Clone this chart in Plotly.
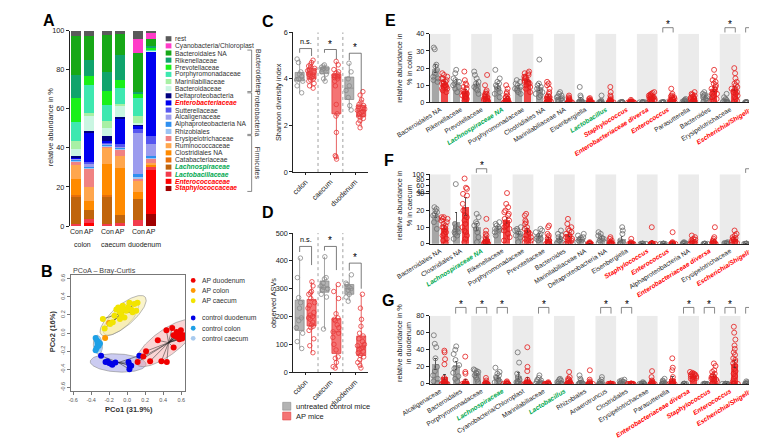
import numpy as np
import plotly.graph_objects as go

W, H = 757, 439
FONT = "Liberation Sans, Arial, Helvetica, sans-serif"
INK = "#222222"
RED_TXT = "#ff0000"
GREEN_TXT = "#00a84f"

# ============================ DATA ============================
# ---- Panel A: mean relative abundance (%) per bar; taxa listed top -> bottom of the stack
a_taxa = ["rest", "Cyanobacteria/Chloroplast", "Bacteroidales NA", "Rikenellaceae",
          "Prevotellaceae", "Porphyromonadaceae", "Marinilabiliaceae", "Bacteroidaceae",
          "Deltaproteobacteria", "Enterobacteriaceae", "Sutterellaceae", "Alcaligenaceae",
          "Alphaproteobacteria NA", "Rhizobiales", "Erysipelotrichaceae", "Ruminococcaceae",
          "Clostridiales NA", "Catabacteriaceae", "Lachnospiraceae", "Lactobacillaceae",
          "Enterococcaceae", "Staphylococcaceae"]
a_taxa_mark = ["k", "k", "k", "k", "k", "k", "k", "k", "k", "r", "k", "k", "k", "k",
               "k", "k", "k", "k", "g", "g", "r", "r"]
a_bar_labels = ["Con", "AP", "Con", "AP", "Con", "AP"]
a_sites = ["colon", "caecum", "duodenum"]
a_con_colon = [2.5, 0, 20.2, 11.8, 12.2, 9.8, 3.9, 3.6, 0.5, 0.5, 0.5, 0.3, 0.4, 0.4, 2.2, 7.2, 8.0, 0.5, 14.5, 0.6, 0.4, 0]
a_ap_colon = [2.5, 0, 12.4, 8.3, 4.5, 14.4, 1.4, 7.9, 0.3, 15.4, 1.4, 0.6, 0.9, 0.4, 9.5, 7.5, 4.5, 0, 4.3, 2.2, 1.6, 0]
a_con_caecum = [2.4, 0, 18.7, 9.7, 7.5, 8.0, 3.3, 4.1, 2.9, 0.4, 0.8, 0.4, 0.6, 0.2, 0.5, 8.75, 15.85, 0.5, 14.4, 0.6, 0.4, 0]
a_ap_caecum = [1.9, 0, 10.5, 13.0, 4.0, 8.3, 0.5, 5.9, 0.5, 13.6, 0.8, 0.6, 0.6, 0.2, 3.7, 6.3, 24.2, 0, 4.1, 0.8, 0.5, 0]
a_con_duodenum = [4.4, 6.9, 20.0, 1.1, 2.0, 9.4, 3.6, 0.5, 0.3, 2.2, 2.0, 20.8, 1.7, 0.8, 0.6, 6.1, 3.6, 0, 10.9, 3.1, 0, 0]
a_ap_duodenum = [0.8, 3.6, 3.5, 1.1, 0.5, 0.5, 0.2, 0.2, 0, 43.7, 4.1, 5.9, 0.8, 0.5, 2.3, 0.7, 0.7, 0.4, 0, 2.0, 22.6, 5.9]
a_phyla = ["Bacteroidetes", "Proteobacteria", "Firmicutes"]
a_phyla_first = [2, 8, 14]
a_phyla_last = [7, 13, 21]

# ---- Panel B: PCoA coordinates (Bray-Curtis)
b_names = ["control caecum", "control colon", "control duodenum", "AP colon", "AP caecum", "AP duodenum"]
b_ctrl_caecum_x = [-0.33, -0.31]
b_ctrl_caecum_y = [-0.13, -0.17]
b_ctrl_colon_x = [-0.35, -0.335, -0.327, -0.316, -0.338, -0.35, -0.302, -0.32]
b_ctrl_colon_y = [-0.054, -0.083, -0.115, -0.14, -0.162, -0.19, -0.115, -0.10]
b_ctrl_duo_x = [-0.29, -0.24, -0.22, -0.20, -0.18, -0.165, -0.13, 0.015, 0.025, 0.045, 0.025, 0.135]
b_ctrl_duo_y = [-0.25, -0.32, -0.31, -0.33, -0.34, -0.35, -0.325, -0.32, -0.35, -0.36, -0.40, -0.25]
b_ap_colon_x = [-0.245, -0.20]
b_ap_colon_y = [-0.055, 0.11]
b_ap_caecum_x = [-0.27, -0.25, -0.19, -0.16, -0.12, -0.10, -0.08, -0.065, -0.05, -0.03, -0.01,
                 0.01, 0.025, 0.045, 0.06, 0.08, 0.10, 0.115, -0.08, -0.14, -0.05]
b_ap_caecum_y = [0.155, 0.05, 0.10, 0.12, 0.26, 0.28, 0.23, 0.21, 0.26, 0.17, 0.245,
                 0.28, 0.335, 0.26, 0.23, 0.32, 0.245, 0.335, 0.155, 0.19, 0.30]
b_ap_duo_x = [0.116, 0.18, 0.21, 0.255, 0.34, 0.38, 0.44, 0.436, 0.50, 0.516, 0.516, 0.55,
              0.57, 0.59, 0.61, 0.62, 0.625, 0.596, 0.58, 0.55]
b_ap_duo_y = [-0.32, -0.26, -0.20, -0.31, -0.08, -0.31, -0.32, 0.03, 0.055, -0.025, -0.16, 0.01,
              -0.02, -0.007, -0.06, -0.04, -0.025, 0.03, -0.07, -0.04]
b_legend = ["AP duodenum", "AP colon", "AP caecum", "control duodenum", "control colon", "control caecum"]

# ---- Panels C and D: alpha diversity per mouse (site order: colon, caecum, duodenum)
cd_sites = ["colon", "caecum", "duodenum"]
c_con = [[4.85, 4.7, 4.3, 4.2, 4.1, 4.0, 3.95, 3.9, 3.7, 3.4],
         [4.6, 4.55, 4.5, 4.45, 4.45, 4.4, 4.3, 4.2, 4.0, 3.9],
         [4.67, 4.3, 4.0, 3.7, 3.5, 3.2, 2.85, 2.66]]
c_ap = [[4.8, 4.7, 4.6, 4.55, 4.5, 4.45, 4.4, 4.35, 4.3, 4.25, 4.2, 4.2, 4.15, 4.1, 4.05, 4.0, 3.95, 3.9, 3.8, 3.7, 3.6],
        [4.75, 4.6, 4.4, 4.3, 4.25, 4.2, 4.15, 4.12, 4.1, 4.08, 4.05, 4.0, 3.9, 3.7, 2.9, 2.5, 2.4, 1.7, 0.7, 0.65, 0.55],
        [3.45, 3.3, 3.1, 3.0, 2.9, 2.85, 2.8, 2.75, 2.7, 2.65, 2.6, 2.55, 2.5, 2.45, 2.4, 2.35, 2.3, 2.2, 2.1, 1.9]]
c_sig = ["n.s.", "*", "*"]
d_con = [[410, 340, 268, 250, 230, 195, 185, 160, 140, 110, 85],
         [415, 340, 335, 320, 310, 305, 300, 295, 280, 270, 155],
         [350, 320, 315, 305, 300, 295, 280, 270, 255]]
d_ap = [[325, 310, 290, 285, 280, 265, 250, 240, 230, 215, 205, 200, 195, 190, 180, 170, 165, 160, 150, 120, 95, 70],
        [315, 290, 265, 210, 195, 190, 185, 170, 160, 145, 140, 125, 100, 80, 55, 50, 35, 20, 15],
        [280, 230, 190, 165, 140, 130, 120, 110, 100, 95, 90, 85, 80, 75, 70, 60, 55, 45, 35, 25, 15]]
d_sig = ["n.s.", "*", "*"]
cd_legend = ["untreated control mice", "AP mice"]

# ---- Panel E: colon, relative abundance (%) per mouse
e_labels = ["Bacteroidales NA", "Rikenellaceae", "Prevotellaceae", "Lachnospiraceae NA",
            "Porphyromonadaceae", "Clostridiales NA", "Marinilabiliaceae NA", "Eisenbergiella",
            "Lactobacillus", "Staphylococcus", "Enterobacteriaceae diversa", "Enterococcus",
            "Parasutterella", "Bacteroides", "Erysipelotrichaceae", "Escherichia/Shigella"]
e_marks = ["k", "k", "k", "g", "k", "k", "k", "k", "g", "r", "r", "r", "k", "k", "k", "r"]
e_con = [[32, 31, 22, 21, 19, 17, 15, 14, 13, 12],
         [19, 17, 14, 13, 12, 11, 10, 9, 8, 6],
         [18, 16, 14, 12, 11, 10, 9, 8, 7, 5],
         [19, 14, 12, 11, 10, 9, 8, 6, 5, 3],
         [13, 12, 11, 10, 9, 8, 8, 7, 6, 5],
         [25, 11, 10, 9, 8, 7, 6, 5, 4, 3],
         [6, 5, 4, 3.5, 3, 2.5, 2, 1.5, 1, 0.5],
         [9, 4, 3, 1, 0.5, 0.3, 0.2, 0.1, 0, 0],
         [4, 1, 0.5, 0.2, 0.1, 0, 0, 0, 0, 0],
         [0.3, 0.2, 0, 0, 0, 0, 0, 0, 0, 0],
         [0.2, 0, 0, 0, 0, 0, 0, 0, 0, 0],
         [0.2, 0, 0, 0, 0, 0, 0, 0, 0, 0],
         [2, 1.5, 1, 1, 0.5, 0.5, 0.3, 0.2, 0, 0],
         [6, 5, 4.5, 4, 3.5, 3, 2.5, 2, 1, 0.5],
         [5, 3, 2, 1.5, 1, 0.5, 0.3, 0.2, 0, 0],
         [0.2, 0.1, 0, 0, 0, 0, 0, 0, 0, 0]]
e_ap = [[17, 16, 15, 14, 14, 13, 12, 12, 11, 11, 10, 10, 9, 9, 8, 8, 7, 6],
        [18, 13, 11, 10, 9, 8, 7, 6, 6, 5, 5, 4, 4, 3, 3, 2, 2, 1],
        [16, 10, 7, 6, 5, 5, 4, 4, 3, 3, 2, 2, 1, 1, 1, 0.5, 0.5, 0],
        [10, 8, 6, 5, 4, 3, 3, 2, 2, 1, 1, 0.5, 0.5, 0.3, 0.2, 0, 0, 0],
        [18, 17, 17, 16, 15, 15, 14, 14, 13, 13, 12, 12, 11, 11, 10, 9, 8, 6],
        [12, 11, 10, 8, 6, 5, 4, 3, 3, 2, 2, 1, 1, 0.5, 0.5, 0.3, 0, 0],
        [4, 3, 2.5, 2, 1.5, 1, 1, 0.5, 0.5, 0.3, 0.2, 0.1, 0, 0, 0, 0, 0, 0],
        [2.5, 2, 1.5, 1, 1, 0.5, 0.5, 0.3, 0.2, 0, 0, 0, 0, 0, 0, 0, 0, 0],
        [9, 6, 4, 3, 2, 1.5, 1, 1, 0.5, 0.5, 0.3, 0.2, 0, 0, 0, 0, 0, 0],
        [1.5, 0.8, 0.5, 0.2, 0, 0, 0, 0, 0, 0, 0, 0, 0, 0, 0, 0, 0, 0],
        [6, 5.5, 5, 4.5, 4, 4, 3.5, 3.5, 3, 3, 2.5, 2.5, 2, 2, 1.5, 1, 0.5, 0],
        [8, 5, 4, 3.5, 3, 3, 2.5, 2, 2, 1.5, 1.5, 1, 1, 0.5, 0.5, 0, 0, 0],
        [6, 5, 4.5, 4, 3.5, 3, 3, 2.5, 2.5, 2, 2, 1.5, 1, 1, 0.5, 0.5, 0, 0],
        [19, 15, 13, 12, 11, 10, 9, 8, 8, 7, 6, 5, 5, 4, 3, 2, 1, 0.5],
        [20, 17, 14, 12, 11, 10, 9, 8, 8, 7, 6, 6, 5, 4, 3, 2, 1, 0.5],
        [26.5, 26.5, 24, 22, 20, 19, 18, 17, 16, 15, 13, 12, 10, 8, 6, 4, 2, 1]]
e_sig = [11, 14, 15]

# ---- Panel F: caecum (y axis broken above 30 %)
f_labels = ["Bacteroidales NA", "Clostridiales NA", "Lachnospiraceae NA", "Rikenellaceae",
            "Porphyromonadaceae", "Prevotellaceae", "Bacteroides", "Marinilabiliaceae NA",
            "Deltaproteobacteria NA", "Eisenbergiella", "Staphylococcus", "Enterococcus",
            "Alphaproteobacteria NA", "Enterobacteriaceae diversa", "Erysipelotrichaceae",
            "Escherichia/Shigella"]
f_marks = ["k", "k", "g", "k", "k", "k", "k", "k", "k", "k", "r", "r", "k", "r", "k", "r"]
f_con = [[22, 21, 20, 19, 18, 17, 15, 13, 9],
         [65, 12, 10, 9, 8, 7, 7, 6, 5, 3],
         [18, 16, 13, 12, 11, 9, 7, 4, 1],
         [13, 12, 11, 10, 9, 9, 8, 7, 5],
         [10, 9, 8, 8, 7, 6, 5, 4, 1],
         [9, 8, 7, 6, 5, 4, 3, 3, 2],
         [8, 6, 5, 4, 3, 2, 1, 0.5, 0],
         [6, 5, 4, 3.5, 3, 2.5, 2, 1, 0.5],
         [7, 6, 5, 4, 3.5, 3, 2, 1, 0.5],
         [10, 8, 6, 2, 1, 0.5, 0.2, 0, 0],
         [0.2, 0, 0, 0, 0, 0, 0, 0, 0],
         [0.2, 0, 0, 0, 0, 0, 0, 0, 0],
         [1, 0.5, 0.5, 0.3, 0.2, 0, 0, 0, 0],
         [0.2, 0, 0, 0, 0, 0, 0, 0, 0],
         [1, 0.5, 0.5, 0.3, 0.2, 0.1, 0, 0, 0],
         [0.2, 0, 0, 0, 0, 0, 0, 0, 0]]
f_ap = [[16, 16, 15, 15, 14, 13, 12, 11, 10, 10, 9, 8, 7, 6, 5, 3, 2, 0.5],
        [85, 52, 48, 30, 29, 24, 20, 17, 16, 14, 12, 10, 8, 7, 5, 3, 1],
        [15, 8, 6, 5, 4, 3, 2, 1.5, 1, 1, 0.5, 0.5, 0.3, 0.2, 0, 0, 0],
        [33, 24, 22, 20, 19, 18, 17, 15, 14, 13, 12, 11, 10, 9, 8, 6, 4, 2],
        [18, 17, 14, 13, 12, 10, 9, 8, 7, 6, 5, 4, 3, 2, 1, 0.5],
        [11, 10, 6, 5, 4, 3, 2, 1, 0.5, 0.3, 0, 0, 0, 0],
        [15, 12, 10, 9, 8, 7, 6, 5, 4, 3, 2, 1, 0.5, 0],
        [1, 0.5, 0.3, 0.2, 0, 0, 0, 0, 0, 0, 0, 0],
        [4, 3, 2, 1, 1, 0.5, 0.5, 0.2, 0, 0, 0, 0],
        [3, 1, 0.5, 0, 0, 0, 0, 0, 0, 0, 0, 0],
        [10, 0.5, 0.2, 0, 0, 0, 0, 0, 0, 0, 0, 0],
        [7, 1, 0.5, 0.3, 0, 0, 0, 0, 0, 0, 0, 0],
        [5, 4, 3, 2.5, 2, 1.5, 1, 1, 0.5, 0.3, 0, 0],
        [10, 4, 3, 2, 1.5, 1, 1, 0.5, 0.3, 0, 0, 0],
        [8, 6, 5, 4, 3.5, 3, 2.5, 2, 1.5, 1, 0.5, 0.3],
        [70, 25, 22, 20, 18, 16, 15, 13, 12, 10, 8, 6, 4, 2, 1, 0.5, 0, 0, 0]]
f_sig = [2, 15]
f_ticks = [0, 10, 20, 30, 40, 60, 80, 100]

# ---- Panel G: duodenum
g_labels = ["Alcaligenaceae", "Bacteroidales", "Porphyromonadaceae", "Lachnospiraceae",
            "Cyanobacteria/Chloroplast", "Marinilabiliaceae", "Lactobacillus", "Rhizobiales",
            "Anaerotruncus", "Clostridiales", "Erysipelotrichaceae", "Parasutterella",
            "Enterobacteriaceae diversa", "Staphylococcus", "Enterococcus", "Escherichia/Shigella"]
g_marks = ["k", "k", "k", "g", "k", "k", "g", "k", "k", "k", "k", "k", "r", "r", "r", "r"]
g_con = [[57, 47, 43, 30, 20, 15, 10, 6, 3, 1],
         [44, 40, 35, 28, 22, 18, 13, 9, 6, 3],
         [17, 16, 15, 14, 13, 12, 10, 8, 5, 2],
         [19, 14, 12, 10, 8, 7, 5, 3, 2, 1],
         [37, 25, 12, 8, 5, 3, 2, 1, 0.5, 0],
         [10, 7, 5, 4, 3, 2, 1, 0.5, 0.3, 0],
         [6, 5, 4, 3, 2, 1, 0.5, 0.3, 0, 0],
         [10, 6, 4, 2, 1, 0.5, 0.3, 0, 0, 0],
         [8, 5, 3, 2, 1, 0.5, 0.3, 0.2, 0, 0],
         [5, 4, 3, 2.5, 2, 1.5, 1, 0.5, 0.3, 0],
         [2, 1, 0.5, 0.3, 0.2, 0, 0, 0, 0, 0],
         [6, 4, 3, 2, 1, 0.5, 0.3, 0, 0, 0],
         [0.3, 0.1, 0, 0, 0, 0, 0, 0, 0, 0],
         [0.2, 0, 0, 0, 0, 0, 0, 0, 0, 0],
         [0.2, 0, 0, 0, 0, 0, 0, 0, 0, 0],
         [3, 2, 1, 0.5, 0.3, 0, 0, 0, 0, 0]]
g_ap = [[39, 37, 29, 23, 7, 5, 3, 2, 1, 0.5, 0.5, 0.2, 0, 0, 0, 0, 0, 0],
        [32, 14, 12, 3, 1, 0.5, 0.3, 0.2, 0, 0, 0, 0, 0, 0, 0, 0, 0, 0],
        [7, 4, 2, 1, 0.5, 0.3, 0.2, 0, 0, 0, 0, 0, 0, 0],
        [3, 2, 1, 0.5, 0.3, 0.2, 0, 0, 0, 0, 0, 0, 0, 0],
        [43, 20, 15, 5, 3, 2, 1, 0.5, 0.3, 0, 0, 0, 0, 0, 0, 0, 0, 0],
        [2, 1, 0.5, 0.3, 0.1, 0, 0, 0, 0, 0, 0, 0, 0, 0],
        [14, 8, 6, 5, 4, 3, 2, 1, 0.5, 0, 0, 0, 0, 0],
        [16, 5, 3, 2, 1, 0.5, 0.3, 0, 0, 0, 0, 0, 0, 0],
        [0.5, 0.2, 0, 0, 0, 0, 0, 0, 0, 0, 0, 0, 0, 0],
        [0.5, 0.3, 0.1, 0, 0, 0, 0, 0, 0, 0, 0, 0, 0, 0],
        [15, 8, 4, 3, 2, 1.5, 1, 0.5, 0.3, 0, 0, 0, 0, 0],
        [30, 19, 16, 8, 4, 2, 1, 0.5, 0, 0, 0, 0, 0, 0],
        [14, 13, 12, 12, 11, 11, 10, 10, 9, 9, 8, 7, 6, 5],
        [24, 21, 16, 14, 12, 10, 9, 8, 7, 6, 5, 4, 3, 2, 1, 0.5],
        [67, 60, 52, 45, 41, 37, 34, 30, 28, 26, 24, 21, 18, 15, 12, 9, 6, 3, 1, 0, 0, 0, 0],
        [79, 72, 71, 65, 62, 60, 52, 50, 48, 46, 43, 39, 33, 29, 22, 10, 6, 4, 2]]
g_sig = [1, 2, 3, 5, 8, 9, 12, 13, 14, 15]

# ============================ STYLE ============================
a_colors = ["#5a5a5a", "#ff3cc8", "#17a817", "#10a46c", "#1af01a", "#3ee8b0", "#a8f0a4", "#caf6e2",
            "#000080", "#0000f0", "#5656f0", "#9c9cee", "#2e8ff0", "#9cc4f4", "#f08282", "#ffa64d",
            "#ff8a00", "#e8700a", "#c0640c", "#f23c4c", "#ff0000", "#a00000"]
b_colors = {"control caecum": "#a8caee", "control colon": "#1ea0e6", "control duodenum": "#0000e6",
            "AP colon": "#ff9900", "AP caecum": "#f2e400", "AP duodenum": "#f00000"}
# ellipse geometry: centre x, centre y, semi-axis a, semi-axis b, angle (deg), fill
b_ellipses = [(-0.07, 0.16, 0.25, 0.10, 42, "rgba(245,225,150,0.45)"),
              (-0.045, 0.19, 0.32, 0.115, 40, "rgba(245,235,160,0.55)"),
              (-0.325, -0.13, 0.105, 0.05, 95, "rgba(140,200,235,0.55)"),
              (-0.10, -0.33, 0.31, 0.10, -3, "rgba(140,140,225,0.45)"),
              (0.43, -0.11, 0.40, 0.14, 36, "rgba(244,160,160,0.45)")]
CON_FILL, CON_EDGE, CON_PT = "#b3b3b3", "#8c8c8c", "#8a8a8a"
AP_FILL, AP_EDGE, AP_PT = "#f47474", "#e03c3c", "#e8383a"
CON_BAR, AP_BAR = "#a6a6a6", "#ef4646"
BAR_CON_PT, BAR_AP_PT = "#6e6e6e", "#e41a1a"
SHADE = "#ebebeb"


def fx(p):
    return p / W


def fy(p):
    return 1.0 - p / H


def mark_text(text, mark):
    if mark == "r":
        return f"<b><i><span style='color:{RED_TXT}'>{text}</span></i></b>"
    if mark == "g":
        return f"<b><i><span style='color:{GREEN_TXT}'>{text}</span></i></b>"
    return text


fig = go.Figure()
shapes, annots = [], []
layout = dict(width=W, height=H, margin=dict(l=0, r=0, t=0, b=0), autosize=False,
              paper_bgcolor="white", plot_bgcolor="white", barmode="stack", boxmode="overlay",
              font=dict(family=FONT, size=7.3, color=INK), showlegend=False)


def text(x, y, s, size=7.3, color=INK, xanchor="center", yanchor="middle", angle=0, **kw):
    annots.append(dict(x=x, y=y, xref=kw.pop("xref", "paper"), yref=kw.pop("yref", "paper"),
                       text=s, showarrow=False, xanchor=xanchor, yanchor=yanchor, textangle=angle,
                       font=dict(size=size, color=color, family=FONT), **kw))


def line(x0, y0, x1, y1, xref="paper", yref="paper", color=INK, width=0.8, dash=None):
    d = dict(type="line", x0=x0, y0=y0, x1=x1, y1=y1, xref=xref, yref=yref,
             line=dict(color=color, width=width))
    if dash:
        d["line"]["dash"] = dash
    shapes.append(d)


# ============================ PANEL A ============================
a_bars = [a_con_colon, a_ap_colon, a_con_caecum, a_ap_caecum, a_con_duodenum, a_ap_duodenum]
A_GROUP = 2.54
a_pos = [g * A_GROUP + s for g in range(len(a_sites)) for s in range(2)]
for i in reversed(range(len(a_taxa))):
    fig.add_trace(go.Bar(x=a_pos, y=[b[i] for b in a_bars], width=0.82, name=a_taxa[i],
                         marker=dict(color=a_colors[i], line=dict(width=0)),
                         xaxis="x", yaxis="y", showlegend=False))
layout["xaxis"] = dict(domain=[fx(29), fx(122)], range=[-0.55, 6.72], anchor="y",
                       tickvals=a_pos, ticktext=a_bar_labels, ticks="", showline=False, tickangle=0,
                       tickfont=dict(size=7, color=INK), showgrid=False, zeroline=False)
layout["yaxis"] = dict(domain=[fy(218.5), fy(19)], range=[0, 100], anchor="x",
                       tickvals=[0, 20, 40, 60, 80, 100], ticks="outside", ticklen=3, tickwidth=0.8,
                       tickcolor=INK, showline=True, linecolor=INK, linewidth=0.8,
                       tickfont=dict(size=7.3, color=INK), showgrid=False, zeroline=False)
for g, site in enumerate(a_sites):
    text(g * A_GROUP + 0.5, fy(237.5), site, size=7, xref="x")
text(fx(9), fy(118), "relative abundance in %", size=7.3, angle=-90)
LEG_Y0, LEG_DY = 27.3, 7.28
for k, name in enumerate(a_taxa):
    yc = LEG_Y0 + k * LEG_DY
    shapes.append(dict(type="rect", xref="paper", yref="paper", x0=fx(129.5), x1=fx(135.5),
                       y0=fy(yc + 2.6), y1=fy(yc - 2.6), fillcolor=a_colors[k], line=dict(width=0)))
    text(fx(137.5), fy(yc), mark_text(name, a_taxa_mark[k]), size=6.7, color="#333333", xanchor="left")
for name, first, last in zip(a_phyla, a_phyla_first, a_phyla_last):
    yt = LEG_Y0 + first * LEG_DY - 3
    yb = LEG_Y0 + last * LEG_DY + 3
    line(fx(219.5), fy(yt), fx(219.5), fy(yb), color="#555555", width=0.7)
    line(fx(215), fy(yt), fx(219.5), fy(yt), color="#555555", width=0.7)
    line(fx(215), fy(yb), fx(219.5), fy(yb), color="#555555", width=0.7)
    text(fx(226), fy((yt + yb) / 2), name, size=7, color="#333333", angle=90)

# ============================ PANEL B ============================
b_xy = {"control caecum": (b_ctrl_caecum_x, b_ctrl_caecum_y),
        "control colon": (b_ctrl_colon_x, b_ctrl_colon_y),
        "control duodenum": (b_ctrl_duo_x, b_ctrl_duo_y),
        "AP colon": (b_ap_colon_x, b_ap_colon_y),
        "AP caecum": (b_ap_caecum_x, b_ap_caecum_y),
        "AP duodenum": (b_ap_duo_x, b_ap_duo_y)}
t = np.linspace(0, 2 * np.pi, 120)
for cx, cy, ea, eb, ang, fill in b_ellipses:
    th = np.radians(ang)
    ex = cx + ea * np.cos(t) * np.cos(th) - eb * np.sin(t) * np.sin(th)
    ey = cy + ea * np.cos(t) * np.sin(th) + eb * np.sin(t) * np.cos(th)
    fig.add_trace(go.Scatter(x=ex, y=ey, mode="lines", fill="toself", fillcolor=fill,
                             line=dict(color="#8a8a8a", width=0.6), xaxis="x2", yaxis="y2",
                             showlegend=False, hoverinfo="skip"))
for name in b_names:
    xs, ys = b_xy[name]
    if len(xs) < 3:
        continue
    mx, my = float(np.mean(xs)), float(np.mean(ys))
    lx, ly = [], []
    for px_, py_ in zip(xs, ys):
        lx += [mx, px_, None]
        ly += [my, py_, None]
    fig.add_trace(go.Scatter(x=lx, y=ly, mode="lines", line=dict(color="#222222", width=0.5),
                             xaxis="x2", yaxis="y2", showlegend=False, hoverinfo="skip"))
for name in b_names:
    xs, ys = b_xy[name]
    fig.add_trace(go.Scatter(x=xs, y=ys, mode="markers", name=name,
                             marker=dict(color=b_colors[name], size=6, line=dict(width=0)),
                             xaxis="x2", yaxis="y2", showlegend=False))
b_ticks = [-0.6, -0.4, -0.2, 0.0, 0.2, 0.4, 0.6]
b_axis = dict(ticks="outside", ticklen=3, tickwidth=0.6, tickcolor="#777777", showline=True,
              mirror=True, linecolor="#777777", linewidth=0.7, showgrid=False, zeroline=False,
              tickvals=b_ticks, ticktext=[f"{v:.1f}" for v in b_ticks],
              tickfont=dict(size=5.5, color="#555555"))
layout["xaxis2"] = dict(domain=[fx(30.7), fx(150)], range=[-0.62, 0.645], anchor="y2", **b_axis)
layout["yaxis2"] = dict(domain=[fy(387), fy(268)], range=[-0.64, 0.645], anchor="x2",
                        tickangle=-90, **b_axis)
text(fx(30), fy(263.5), "PCoA \u2013 Bray-Curtis", size=7.2, color="#444444", xanchor="left")
text(fx(91), fy(405.5), "<b>PCo1 (31.9%)</b>", size=7.5, color="#333333")
text(fx(10.5), fy(326), "<b>PCo2 (16%)</b>", size=7.5, color="#333333", angle=-90)
for k, name in enumerate(b_legend):
    yc = 274 + 10.4 * k + (7.2 if k >= 3 else 0)
    shapes.append(dict(type="circle", xref="paper", yref="paper", x0=fx(155.8), x1=fx(160.8),
                       y0=fy(yc + 2.5), y1=fy(yc - 2.5), fillcolor=b_colors[name], line=dict(width=0)))
    text(fx(165.5), fy(yc), name, size=6.8, color="#333333", xanchor="left")

# ============================ PANELS C, D ============================
def box_panel(n, con_lists, ap_lists, dom_y, yrange, ytick, sig, top, lleg, rleg):
    xa, ya = f"x{n}", f"y{n}"
    for lists, off, fill, edge, pcol in ((con_lists, -0.24, CON_FILL, CON_EDGE, CON_PT),
                                         (ap_lists, 0.24, AP_FILL, AP_EDGE, AP_PT)):
        pos = [g + off for g in range(len(lists))]
        fig.add_trace(go.Box(x=pos, orientation="v",
                             q1=[float(np.percentile(v, 25)) for v in lists],
                             median=[float(np.percentile(v, 50)) for v in lists],
                             q3=[float(np.percentile(v, 75)) for v in lists],
                             lowerfence=[float(np.min(v)) for v in lists],
                             upperfence=[float(np.max(v)) for v in lists],
                             width=0.36, whiskerwidth=0, fillcolor=fill, boxpoints=False,
                             line=dict(color=edge, width=0.8), xaxis=xa, yaxis=ya, showlegend=False))
        xs = [g + off for g, v in enumerate(lists) for _ in v]
        ys = [y for v in lists for y in v]
        fig.add_trace(go.Box(x=xs, y=ys, boxpoints="all", jitter=0.9, pointpos=0, width=0.36,
                             fillcolor="rgba(0,0,0,0)", line=dict(color="rgba(0,0,0,0)", width=0),
                             marker=dict(symbol="circle-open", size=4.5, color=pcol,
                                         line=dict(width=0.8)),
                             xaxis=xa, yaxis=ya, showlegend=False))
    layout[f"xaxis{n}"] = dict(domain=[fx(263), fx(341)], range=[-0.5, 2.5], anchor=ya,
                               tickvals=[0, 1, 2], ticktext=cd_sites, tickangle=-45, ticks="outside",
                               ticklen=2, tickwidth=0.8, tickcolor=INK, showline=True, linecolor=INK,
                               linewidth=0.8, tickfont=dict(size=7.3, color=INK), showgrid=False,
                               zeroline=False)
    layout[f"yaxis{n}"] = dict(domain=dom_y, range=yrange, anchor=xa, tickvals=ytick,
                               ticks="outside", ticklen=3, tickwidth=0.8, tickcolor=INK,
                               showline=True, linecolor=INK, linewidth=0.8,
                               tickfont=dict(size=7.3, color=INK), showgrid=False, zeroline=False)
    for xs in (0.5, 1.5):
        line(xs, yrange[0], xs, yrange[1], xref=xa, yref=ya, color="#777777", width=0.7, dash="dot")
    for g, s in enumerate(sig):
        x0, x1 = g - 0.24, g + 0.24
        line(x0, lleg[g], x0, top[g], xref=xa, yref=ya, color="#444444", width=0.7)
        line(x0, top[g], x1, top[g], xref=xa, yref=ya, color="#444444", width=0.7)
        line(x1, top[g], x1, rleg[g], xref=xa, yref=ya, color="#444444", width=0.7)
        text(g, top[g], s, size=(7.3 if s != "*" else 10), color="#000000", xref=xa, yref=ya,
             yanchor="bottom", yshift=(0.5 if s != "*" else -2))


box_panel(3, c_con, c_ap, [fy(163.3), fy(20.7)], [0, 6], [0, 2, 4, 6], c_sig,
          [5.3, 5.26, 5.1], [5.12, 5.12, 4.8], [4.98, 4.84, 3.45])
box_panel(4, d_con, d_ap, [fy(367.7), fy(225.7)], [0, 500], [0, 100, 200, 300, 400, 500], d_sig,
          [452, 452, 392], [432, 437, 365], [385, 367, 300])
text(fx(247), fy(92), "Shannon diversity index", size=7.3, angle=-90)
text(fx(243), fy(297), "observed ASVs", size=7.3, angle=-90)
for k, (lab, fill, edge) in enumerate(zip(cd_legend, (CON_FILL, AP_FILL), (CON_EDGE, AP_EDGE))):
    yc = 402.5 + 10 * k
    shapes.append(dict(type="rect", xref="paper", yref="paper", x0=fx(252), x1=fx(260.5),
                       y0=fy(yc + 4), y1=fy(yc - 4), fillcolor=fill, line=dict(color=edge, width=0.6)))
    text(fx(264), fy(yc), lab, size=7.5, xanchor="left")

# ============================ PANELS E, F, G ============================
F_BREAK, F_SQUEEZE = 30.0, 0.168


def lin(v):
    return np.asarray(v, float)


def f_scale(v):
    v = np.asarray(v, float)
    return np.where(v <= F_BREAK, v, F_BREAK + (v - F_BREAK) * F_SQUEEZE)


def bar_panel(n, labels, marks, con_pts, ap_pts, scale, top_value, yticks, dom_y, ytitle, ytitle_y,
              sig, star_y, br_y, leg_y):
    xa, ya = f"x{n}", f"y{n}"
    ntax = len(labels)
    ymax = float(scale(top_value))
    for i in range(0, ntax, 2):
        shapes.append(dict(type="rect", xref=xa, yref=ya, x0=i - 0.5, x1=i + 0.5, y0=0, y1=ymax,
                           fillcolor=SHADE, line=dict(width=0), layer="below"))
    for pts, off, bcol, pcol in ((con_pts, -0.22, CON_BAR, BAR_CON_PT),
                                 (ap_pts, 0.22, AP_BAR, BAR_AP_PT)):
        means = np.array([np.mean(v) for v in pts])
        sems = np.array([np.std(v, ddof=1) / np.sqrt(len(v)) for v in pts])
        m_t = scale(means)
        up = scale(means + sems) - m_t
        dn = m_t - scale(np.clip(means - sems, 0, None))
        pos = [i + off for i in range(ntax)]
        fig.add_trace(go.Bar(x=pos, y=m_t, width=0.34, marker=dict(color=bcol, line=dict(width=0)),
                             error_y=dict(type="data", symmetric=False, array=up, arrayminus=dn,
                                          color="#333333", thickness=0.8, width=1.2),
                             xaxis=xa, yaxis=ya, showlegend=False))
        xs = [i + off for i, v in enumerate(pts) for _ in v]
        ys = scale([y for v in pts for y in v])
        fig.add_trace(go.Box(x=xs, y=ys, boxpoints="all", jitter=1.0, pointpos=0, width=0.34,
                             fillcolor="rgba(0,0,0,0)", line=dict(color="rgba(0,0,0,0)", width=0),
                             marker=dict(symbol="circle-open", size=5, color=pcol, line=dict(width=0.8)),
                             xaxis=xa, yaxis=ya, showlegend=False))
    layout[f"xaxis{n}"] = dict(domain=[fx(406), fx(753)], range=[-0.5, ntax - 0.5], anchor=ya,
                               tickvals=list(range(ntax)),
                               ticktext=[mark_text(l, m) for l, m in zip(labels, marks)],
                               tickangle=-32, ticks="", showline=True, linecolor=INK, linewidth=0.8,
                               ticklabeloverflow="allow",
                               tickfont=dict(size=6.6, color=INK), showgrid=False, zeroline=False)
    layout[f"yaxis{n}"] = dict(domain=dom_y, range=[0, ymax], anchor=xa,
                               tickvals=[float(scale(v)) for v in yticks],
                               ticktext=[str(v) for v in yticks], ticks="outside", ticklen=3,
                               tickwidth=0.8, tickcolor=INK, showline=True, linecolor=INK,
                               linewidth=0.8, tickfont=dict(size=7.3, color=INK), showgrid=False,
                               zeroline=False)
    text(fx(379), fy(ytitle_y), ytitle, size=7.3, angle=-90)
    dref = f"{ya} domain"
    for i in sig:
        x0, x1 = i - 0.25, i + 0.25
        line(x0, leg_y, x0, br_y, xref=xa, yref=dref, color="#555555", width=0.7)
        line(x0, br_y, x1, br_y, xref=xa, yref=dref, color="#555555", width=0.7)
        line(x1, br_y, x1, leg_y, xref=xa, yref=dref, color="#555555", width=0.7)
        text(i, star_y, "*", size=10, color="#000000", xref=xa, yref=dref)


bar_panel(5, e_labels, e_marks, e_con, e_ap, lin, 40, [0, 10, 20, 30, 40],
          [fy(92.3), fy(22.3)], "relative abundance in<br>% in colon", 57, e_sig, 1.13, 1.09, 1.02)
bar_panel(6, f_labels, f_marks, f_con, f_ap, f_scale, 100, f_ticks,
          [fy(236.7), fy(165.7)], "relative abundance in<br>% in caecum", 197, f_sig, 1.12, 1.08, 1.02)
bar_panel(7, g_labels, g_marks, g_con, g_ap, lin, 80, [0, 20, 40, 60, 80],
          [fy(379.7), fy(310)], "relative abundance in %<br>in duodenum", 338, g_sig, 1.17, 1.12, 1.03)
line(-0.03, float(f_scale(31.5)), 0.0, float(f_scale(31.5)), xref="x6 domain", yref="y6",
     color=INK, width=0.8)

# ============================ PANEL LETTERS ============================
for letter, (lx, ly) in zip("ABCDEFG", [(7, 9), (5, 265), (237, 10), (237, 205), (365, 9),
                                         (363, 152), (362, 295)]):
    text(fx(lx), fy(ly), f"<b>{letter}</b>", size=16, color="#000000")

layout["shapes"] = shapes
layout["annotations"] = annots
fig.update_layout(**layout)
fig.write_html("out.html")
